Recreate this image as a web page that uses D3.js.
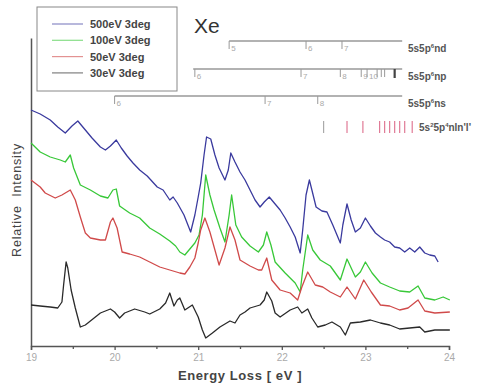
<!DOCTYPE html>
<html>
<head>
<meta charset="utf-8">
<script src="https://cdn.jsdelivr.net/npm/d3@7"></script>
<style>
  html, body { margin: 0; padding: 0; background: #fff; }
  svg { display: block; font-family: "Liberation Sans", Arial, sans-serif; }
</style>
</head>
<body>
<svg id="chart" width="483" height="388"></svg>
<script>
// Xe electron energy-loss spectra at 3 deg for four impact energies
const seriesNames = ["500eV 3deg", "100eV 3deg", "50eV 3deg", "30eV 3deg"];
const seriesColors = ["#3a3a9e", "#38c838", "#d04a4a", "#2a2a2a"];

const energy500 = [19.00,19.11,19.23,19.32,19.41,19.49,19.56,19.63,19.73,19.83,19.89,19.95,20.02,20.08,20.15,20.22,20.30,20.39,20.51,20.58,20.66,20.70,20.75,20.83,20.91,20.96,21.00,21.03,21.07,21.10,21.15,21.20,21.25,21.32,21.36,21.39,21.44,21.50,21.56,21.62,21.68,21.74,21.79,21.85,21.92,21.98,22.04,22.10,22.16,22.22,22.25,22.29,22.33,22.36,22.41,22.48,22.54,22.61,22.70,22.73,22.78,22.83,22.88,22.94,23.00,23.06,23.12,23.18,23.23,23.29,23.35,23.41,23.47,23.53,23.59,23.65,23.71,23.77,23.83,23.87];
const intensity500 = [236,232,226,219,213,220,225,218,208,199,196,200,206,198,190,183,176,170,159,156,146,149,143,131,114,131,149,163,191,209,207,191,178,166,176,193,184,174,166,156,146,139,144,149,142,136,128,119,109,93,116,151,166,156,139,135,134,121,103,121,142,126,114,118,128,120,113,109,106,104,99,98,94,98,94,99,93,91,90,84];

const energy100 = [19.00,19.11,19.23,19.35,19.41,19.47,19.51,19.59,19.71,19.83,19.92,19.98,20.02,20.06,20.18,20.30,20.42,20.54,20.66,20.73,20.78,20.84,20.90,20.96,21.01,21.05,21.09,21.14,21.19,21.26,21.32,21.37,21.40,21.45,21.52,21.62,21.72,21.78,21.82,21.87,21.92,22.04,22.16,22.22,22.25,22.31,22.37,22.46,22.58,22.70,22.78,22.88,22.94,23.00,23.08,23.18,23.29,23.41,23.53,23.63,23.71,23.83,23.93,24.01];
const intensity100 = [203,194,189,186,184,191,178,161,156,150,148,156,157,140,133,128,118,112,105,100,94,91,97,103,111,131,171,151,136,118,104,131,151,121,109,100,94,101,114,101,84,73,63,54,76,111,96,86,80,66,87,69,74,84,73,63,59,55,54,60,48,46,49,46];

const energy50 = [19.00,19.11,19.17,19.29,19.37,19.47,19.53,19.59,19.65,19.71,19.83,19.89,19.95,19.98,20.03,20.09,20.18,20.30,20.42,20.54,20.66,20.78,20.84,20.90,20.96,21.00,21.03,21.08,21.14,21.20,21.25,21.32,21.38,21.44,21.50,21.62,21.72,21.76,21.82,21.88,21.98,22.10,22.19,22.24,22.31,22.40,22.49,22.58,22.70,22.78,22.88,22.98,23.07,23.18,23.29,23.41,23.51,23.63,23.71,23.83,24.01];
const intensity50 = [166,159,153,148,151,156,146,129,113,108,106,106,124,128,118,94,92,89,84,79,76,73,72,79,88,103,116,128,114,96,81,98,119,106,86,80,76,76,88,66,56,53,46,59,74,61,59,54,49,59,47,66,54,41,40,36,38,46,35,33,34];

const energy30 = [19.00,19.11,19.23,19.32,19.37,19.39,19.42,19.44,19.48,19.53,19.59,19.65,19.71,19.83,19.95,20.00,20.06,20.12,20.24,20.36,20.42,20.54,20.61,20.66,20.71,20.75,20.78,20.84,20.93,21.00,21.05,21.09,21.17,21.26,21.38,21.44,21.50,21.56,21.62,21.74,21.79,21.82,21.88,21.92,21.98,22.10,22.19,22.24,22.31,22.36,22.43,22.52,22.60,22.70,22.76,22.82,22.94,23.06,23.18,23.29,23.41,23.53,23.65,23.71,23.83,24.01];
const intensity30 = [41,40,39,38,44,61,84,78,56,38,19,21,25,33,37,34,28,33,37,34,32,37,43,53,40,46,48,36,41,29,16,8,13,19,25,23,31,34,38,41,46,54,45,33,29,36,39,33,37,28,19,21,24,19,11,23,24,26,23,21,17,18,19,14,16,16];

const xTickValues = [19, 20, 21, 22, 23, 24];
const xMinorTickValues = [19.5, 20.5, 21.5, 22.5, 23.5];

// Rydberg series assignments drawn above the spectra
const ndEnergies = [21.37, 22.29, 22.72];
const ndLabels = ["5", "6", "7"];
const npEnergies = [20.96, 22.23, 22.70, 22.95, 23.02, 23.14, 23.19, 23.23];
const npLabels = ["6", "7", "8", "9", "10", "", "", ""];
const npLimit = 23.35;
const nsEnergies = [20.00, 21.80, 22.43];
const nsLabels = ["6", "7", "8"];
const seriesLineStart = [21.37, 20.94, 20.00];
const seriesLineEnd = 23.44;
const doublyExcitedEnergies = [22.50, 22.78, 22.97, 23.17, 23.23, 23.29, 23.35, 23.41, 23.47, 23.56];

const svg = d3.select("#chart");
const x = d3.scaleLinear().domain([19, 24]).range([31, 449]);
const y = d3.scaleLinear().domain([0, 308]).range([346, 38]);

// axes
const xAxis = d3.axisBottom(x).tickValues(xTickValues).tickSize(4).tickPadding(4).tickFormat(d3.format("d"));
const gx = svg.append("g").attr("transform", `translate(0,${y(0)})`).call(xAxis);
gx.select(".domain").attr("stroke", "#555").attr("stroke-width", 1.5);
gx.selectAll(".tick line").attr("stroke", "#555").attr("stroke-width", 1.3);
gx.selectAll(".tick text").attr("fill", "#aaa").attr("font-size", 10);
const gxm = svg.append("g").attr("transform", `translate(0,${y(0)})`)
  .call(d3.axisBottom(x).tickValues(xMinorTickValues).tickSize(3).tickFormat(""));
gxm.select(".domain").remove();
gxm.selectAll(".tick line").attr("stroke", "#555").attr("stroke-width", 1.3);

const gy = svg.append("g").attr("transform", `translate(${x(19)},0)`)
  .call(d3.axisLeft(y).tickValues([]).tickSizeOuter(0));
gy.select(".domain").attr("stroke", "#555").attr("stroke-width", 1.5);

svg.append("text").attr("x", 240).attr("y", 380).attr("text-anchor", "middle")
  .attr("font-size", 13).attr("font-weight", "bold").attr("fill", "#444").attr("letter-spacing", 0.6)
  .text("Energy Loss [ eV ]");
svg.append("text").attr("transform", "translate(21,200) rotate(-90)").attr("text-anchor", "middle")
  .attr("font-size", 12.5).attr("fill", "#444").attr("letter-spacing", 0.8)
  .attr("xml:space", "preserve").text("Relative  Intensity");

// spectra
const line = d3.line().x(d => x(d[0])).y(d => y(d[1]));
const spectra = [
  [energy500, intensity500],
  [energy100, intensity100],
  [energy50, intensity50],
  [energy30, intensity30]
];
spectra.forEach(([es, is], i) => {
  svg.append("path").datum(d3.zip(es, is)).attr("d", line)
    .attr("fill", "none").attr("stroke", seriesColors[i]).attr("stroke-width", 1.3)
    .attr("stroke-linejoin", "round");
});

// legend
const legend = svg.append("g");
legend.append("rect").attr("x", 37).attr("y", 7).attr("width", 140).attr("height", 84)
  .attr("fill", "#fff").attr("stroke", "#888").attr("stroke-width", 1);
seriesNames.forEach((name, i) => {
  const ly = 24 + i * 16.3;
  legend.append("line").attr("x1", 52).attr("x2", 83).attr("y1", ly).attr("y2", ly)
    .attr("stroke", seriesColors[i]).attr("stroke-opacity", 0.6).attr("stroke-width", 1.2);
  legend.append("text").attr("x", 90).attr("y", ly + 4).attr("font-size", 11)
    .attr("font-weight", "bold").attr("fill", "#444").text(name);
});

svg.append("text").attr("x", 194).attr("y", 33).attr("font-size", 21).attr("fill", "#333").text("Xe");

// Rydberg series markers
const rowY = [41, 69, 96];
const rowEnergies = [ndEnergies, npEnergies, nsEnergies];
const rowLabels = [ndLabels, npLabels, nsLabels];
const rowEnds = ["nd", "np", "ns"];
rowY.forEach((ry, r) => {
  const g = svg.append("g");
  g.append("line").attr("x1", x(seriesLineStart[r])).attr("x2", x(seriesLineEnd))
    .attr("y1", ry).attr("y2", ry).attr("stroke", "#999").attr("stroke-width", 1.6);
  rowEnergies[r].forEach((e, k) => {
    g.append("line").attr("x1", x(e)).attr("x2", x(e)).attr("y1", ry).attr("y2", ry + 8)
      .attr("stroke", "#999").attr("stroke-width", 1);
    if (rowLabels[r][k]) {
      g.append("text").attr("x", x(e) + 2).attr("y", ry + 10).attr("font-size", 8)
        .attr("fill", "#aaa").text(rowLabels[r][k]);
    }
  });
  const t = g.append("text").attr("x", 408).attr("y", ry + 11).attr("font-size", 10)
    .attr("font-weight", "bold").attr("fill", "#555");
  t.append("tspan").text("5s5p");
  t.append("tspan").attr("dy", -4).attr("font-size", 6).text("6");
  t.append("tspan").attr("dy", 4).text(rowEnds[r]);
});
svg.append("line").attr("x1", x(npLimit)).attr("x2", x(npLimit)).attr("y1", rowY[1]).attr("y2", rowY[1] + 9)
  .attr("stroke", "#444").attr("stroke-width", 2.2);

doublyExcitedEnergies.forEach((e, k) => {
  svg.append("line").attr("x1", x(e)).attr("x2", x(e)).attr("y1", 121).attr("y2", 133)
    .attr("stroke", k === 0 ? "#aaa" : "#e07a96").attr("stroke-width", 1.2);
});
const t4 = svg.append("text").attr("x", 419).attr("y", 131).attr("font-size", 10)
  .attr("font-weight", "bold").attr("fill", "#555");
t4.append("tspan").text("5s");
t4.append("tspan").attr("dy", -4).attr("font-size", 6).text("2");
t4.append("tspan").attr("dy", 4).text("5p");
t4.append("tspan").attr("dy", -4).attr("font-size", 6).text("4");
t4.append("tspan").attr("dy", 4).text("nln'l'");
</script>
</body>
</html>
